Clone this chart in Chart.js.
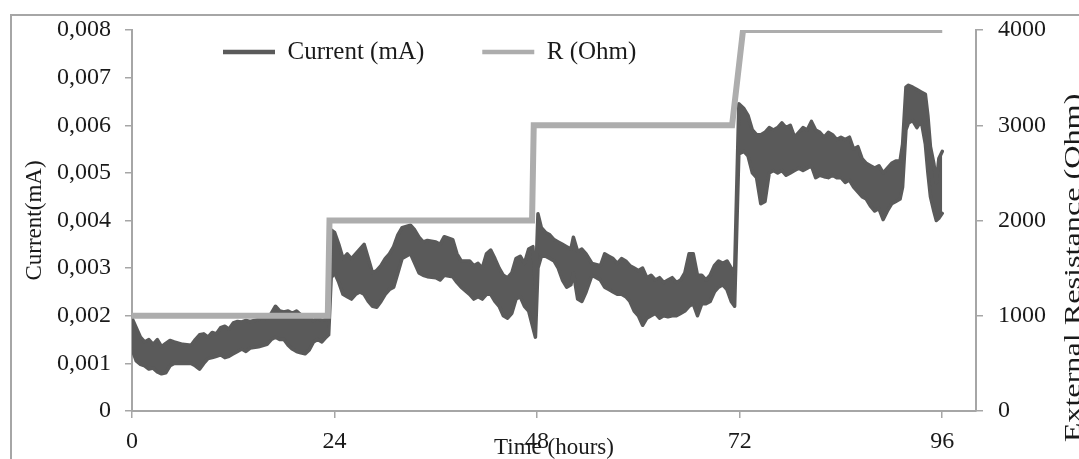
<!DOCTYPE html>
<html>
<head>
<meta charset="utf-8">
<script src="https://cdn.jsdelivr.net/npm/chart.js@4.4.1/dist/chart.umd.min.js"></script>
<style>
  html, body { margin: 0; padding: 0; background: #fff; overflow: hidden; }
  #wrap { position: relative; width: 1079px; height: 459px; }
  #frame { position: absolute; left: 10px; top: 14px; width: 1100px; height: 500px; border: 2px solid #a6a6a6; }
  #chart { position: absolute; left: 0; top: 0; }
</style>
</head>
<body>
<div id="wrap">
  <div id="frame"></div>
  <canvas id="chart" width="1079" height="459"></canvas>
</div>
<script>
// Current vs external resistance

const xTicks = [0, 24, 48, 72, 96];
const yTicks = [0, 0.001, 0.002, 0.003, 0.004, 0.005, 0.006, 0.007, 0.008];
const y2Ticks = [0, 1000, 2000, 3000, 4000];

const xTitle = "Time (hours)";
const yTitle = "Current(mA)";
const y2Title = "External Resistance (Ohm)";

// current trace is a dense noisy band: upper and lower edges of the band
const curHours = [0, 0.5, 1, 1.5, 2, 2.5, 3, 3.5, 4, 4.5, 5, 6, 7, 7.5, 8, 8.5, 9, 9.5, 10, 10.5,
  11, 11.5, 12, 12.5, 13, 13.5, 14, 15, 16, 16.5, 17, 17.5, 18, 18.5, 19, 19.5, 20, 20.5, 21, 21.5,
  22, 22.5, 23, 23.3, 23.6, 24, 24.5, 25, 25.5, 26, 26.5, 27, 27.5, 28, 28.5, 29, 29.5, 30, 30.5, 31,
  31.5, 32, 33, 33.5, 34, 34.5, 35, 36, 36.5, 37, 38, 38.5, 39, 40, 40.5, 41, 41.5, 42, 42.5, 43,
  43.5, 44, 44.5, 45, 45.5, 46, 46.5, 47, 47.5, 47.8, 48.1, 48.5, 49, 49.5, 50, 50.5, 51, 51.5, 52, 52.3,
  52.8, 53.3, 53.8, 54.5, 55.5, 56, 56.5, 57, 57.5, 58, 58.5, 59, 59.5, 60, 60.5, 61, 61.5, 62, 62.5, 63,
  63.5, 64, 64.5, 65, 65.5, 66, 66.5, 67, 67.5, 68, 68.5, 69, 69.5, 70, 70.5, 71, 71.4, 71.9, 72.5, 73,
  73.5, 74, 74.5, 75, 75.5, 76, 76.5, 77, 77.5, 78, 78.5, 79, 79.5, 80, 80.5, 81, 81.5, 82, 82.5, 83,
  83.5, 84, 84.5, 85, 85.5, 86, 86.5, 87, 87.5, 88, 88.5, 89, 89.5, 90, 90.5, 91, 91.3, 91.7, 92, 92.5,
  93, 93.5, 94, 94.3, 94.6, 95, 95.3, 95.6, 96];

const curHigh = [0.00195, 0.00175, 0.00155, 0.00145, 0.00150, 0.00140, 0.00150, 0.00135, 0.00142, 0.00148,
  0.00145, 0.00140, 0.00138, 0.00150, 0.00160, 0.00162, 0.00155, 0.00165, 0.00162, 0.00175,
  0.00178, 0.00172, 0.00185, 0.00188, 0.00187, 0.00190, 0.00188, 0.00192, 0.00195, 0.00205,
  0.00220, 0.00210, 0.00208, 0.00210, 0.00205, 0.00210, 0.00202, 0.00195, 0.00195, 0.00190,
  0.00195, 0.00190, 0.00192, 0.00195, 0.00380, 0.00375, 0.00350, 0.00320, 0.00330, 0.00320,
  0.00330, 0.00340, 0.00350, 0.00320, 0.00290, 0.00295, 0.00305, 0.00320, 0.00330, 0.00345,
  0.00370, 0.00385, 0.00390, 0.00380, 0.00365, 0.00355, 0.00358, 0.00355, 0.00350, 0.00366,
  0.00360, 0.00330, 0.00315, 0.00315, 0.00305, 0.00310, 0.00300, 0.00330, 0.00338, 0.00320,
  0.00300, 0.00285, 0.00280, 0.00290, 0.00320, 0.00325, 0.00310, 0.00340, 0.00345, 0.00260,
  0.00414, 0.00385, 0.00375, 0.00370, 0.00360, 0.00355, 0.00350, 0.00345, 0.00340, 0.00365,
  0.00335, 0.00340, 0.00330, 0.00310, 0.00305, 0.00330, 0.00325, 0.00320, 0.00310, 0.00320,
  0.00315, 0.00305, 0.00300, 0.00295, 0.00300, 0.00280, 0.00285, 0.00275, 0.00280, 0.00270,
  0.00275, 0.00280, 0.00270, 0.00275, 0.00290, 0.00330, 0.00330, 0.00285, 0.00285, 0.00275,
  0.00285, 0.00305, 0.00315, 0.00310, 0.00315, 0.00300, 0.00290, 0.00645, 0.00635, 0.00620,
  0.00590, 0.00580, 0.00580, 0.00585, 0.00595, 0.00590, 0.00595, 0.00605, 0.00595, 0.00600,
  0.00575, 0.00585, 0.00595, 0.00590, 0.00608, 0.00590, 0.00585, 0.00575, 0.00585, 0.00580,
  0.00570, 0.00575, 0.00570, 0.00575, 0.00550, 0.00555, 0.00530, 0.00520, 0.00515, 0.00510,
  0.00515, 0.00500, 0.00510, 0.00520, 0.00525, 0.00525, 0.00560, 0.00680, 0.00684, 0.00680,
  0.00675, 0.00670, 0.00665, 0.00620, 0.00555, 0.00520, 0.00480, 0.00530, 0.00545];

const curLow = [0.00130, 0.00105, 0.00098, 0.00095, 0.00088, 0.00090, 0.00082, 0.00078, 0.00080, 0.00095,
  0.00100, 0.00100, 0.00100, 0.00095, 0.00088, 0.00100, 0.00110, 0.00112, 0.00115, 0.00118,
  0.00112, 0.00115, 0.00120, 0.00125, 0.00130, 0.00125, 0.00132, 0.00135, 0.00140, 0.00150,
  0.00155, 0.00150, 0.00150, 0.00138, 0.00130, 0.00125, 0.00122, 0.00120, 0.00128, 0.00145,
  0.00150, 0.00145, 0.00155, 0.00160, 0.00280, 0.00290, 0.00270, 0.00245, 0.00240, 0.00235,
  0.00245, 0.00250, 0.00245, 0.00230, 0.00220, 0.00218, 0.00230, 0.00245, 0.00255, 0.00260,
  0.00290, 0.00320, 0.00330, 0.00310, 0.00290, 0.00285, 0.00282, 0.00280, 0.00275, 0.00285,
  0.00282, 0.00270, 0.00260, 0.00245, 0.00235, 0.00240, 0.00235, 0.00245, 0.00245, 0.00230,
  0.00220, 0.00200, 0.00195, 0.00205, 0.00235, 0.00240, 0.00220, 0.00210, 0.00175, 0.00155,
  0.00300, 0.00325, 0.00325, 0.00320, 0.00315, 0.00300, 0.00275, 0.00260, 0.00265, 0.00290,
  0.00235, 0.00230, 0.00250, 0.00285, 0.00275, 0.00260, 0.00255, 0.00250, 0.00245, 0.00245,
  0.00240, 0.00230, 0.00210, 0.00200, 0.00180, 0.00195, 0.00200, 0.00205, 0.00195, 0.00200,
  0.00198, 0.00200, 0.00200, 0.00205, 0.00210, 0.00220, 0.00225, 0.00200, 0.00225, 0.00225,
  0.00230, 0.00250, 0.00260, 0.00265, 0.00255, 0.00230, 0.00220, 0.00540, 0.00545, 0.00535,
  0.00500, 0.00490, 0.00435, 0.00440, 0.00500, 0.00505, 0.00500, 0.00505, 0.00495, 0.00500,
  0.00505, 0.00510, 0.00505, 0.00510, 0.00515, 0.00490, 0.00495, 0.00492, 0.00490, 0.00495,
  0.00490, 0.00490, 0.00480, 0.00485, 0.00470, 0.00460, 0.00450, 0.00445, 0.00430, 0.00420,
  0.00425, 0.00402, 0.00420, 0.00435, 0.00440, 0.00445, 0.00470, 0.00590, 0.00605, 0.00610,
  0.00595, 0.00610, 0.00560, 0.00500, 0.00450, 0.00420, 0.00400, 0.00405, 0.00415];

// external resistance steps
const rHours = [0, 23.2, 23.4, 47.4, 47.6, 71.1, 72.4, 96];
const rOhm = [1000, 1000, 2000, 2000, 3000, 3000, 4000, 4000];

const DARK = "#5a5a5a";
const LIGHT = "#adadad";
const AXIS = "#a6a6a6";
const TEXT = "#1a1a1a";
const SERIF = '"Liberation Serif", "Times New Roman", serif';

Chart.defaults.font.family = SERIF;
Chart.defaults.color = TEXT;

function points(xs, ys) {
  return xs.map(function(x, i) { return { x: x, y: ys[i] }; });
}

function commaTick(v) {
  return v === 0 ? "0" : v.toFixed(3).replace(".", ",");
}

// legend takes no layout room; move it into the plot, left of centre
const legendPlace = {
  id: "legendPlace",
  afterLayout: function(chart) {
    var lg = chart.legend;
    var w = lg.right - lg.left;
    lg.left = 165; lg.top = -18.5;
    lg.right = lg.left + w; lg.bottom = lg.top + 120;
  }
};

// right axis title reads bottom-to-top, like the left one
const rightTitle = {
  id: "rightTitle",
  afterDraw: function(chart) {
    var ctx = chart.ctx;
    ctx.save();
    ctx.translate(1080, 268);
    ctx.rotate(-Math.PI / 2);
    ctx.scale(1.4, 1);
    ctx.font = "23px " + SERIF;
    ctx.fillStyle = TEXT;
    ctx.textAlign = "center";
    ctx.textBaseline = "alphabetic";
    ctx.fillText(y2Title, 0, 0);
    ctx.restore();
  }
};

function axisGrid() {
  return { display: true, drawOnChartArea: false, drawTicks: true, tickLength: 7, color: AXIS, lineWidth: 1.5 };
}

new Chart(document.getElementById("chart"), {
  type: "line",
  data: {
    datasets: [
      {
        label: "Current (mA)",
        data: points(curHours, curHigh),
        yAxisID: "y",
        borderColor: DARK,
        backgroundColor: DARK,
        borderWidth: 3.5,
        borderJoinStyle: "round",
        borderCapStyle: "round",
        pointRadius: 0,
        fill: false,
        order: 1
      },
      {
        label: "current band",
        data: points(curHours, curLow),
        yAxisID: "y",
        borderColor: DARK,
        backgroundColor: DARK,
        borderWidth: 3.5,
        borderJoinStyle: "round",
        borderCapStyle: "round",
        pointRadius: 0,
        fill: "-1",
        order: 2
      },
      {
        label: "R (Ohm)",
        data: points(rHours, rOhm),
        yAxisID: "y2",
        borderColor: LIGHT,
        backgroundColor: LIGHT,
        borderWidth: 6,
        pointRadius: 0,
        fill: false,
        order: 0
      }
    ]
  },
  options: {
    responsive: false,
    animation: false,
    layout: { padding: { left: 0, right: 0, top: 29, bottom: 0 } },
    plugins: {
      tooltip: { enabled: false },
      legend: {
        position: "top",
        align: "start",
        maxHeight: 1,
        labels: {
          usePointStyle: true,
          pointStyleWidth: 52,
          padding: 58,
          color: TEXT,
          font: { size: 25 },
          generateLabels: function(chart) {
            return Chart.defaults.plugins.legend.labels.generateLabels(chart)
              .filter(function(it) { return it.datasetIndex !== 1; })
              .sort(function(a, b) { return a.datasetIndex - b.datasetIndex; })
              .map(function(it) { it.pointStyle = "line"; it.lineWidth = 4.5; return it; });
          }
        }
      }
    },
    scales: {
      x: {
        type: "linear",
        min: 0,
        max: 100,
        afterBuildTicks: function(s) { s.ticks = xTicks.map(function(v) { return { value: v }; }); },
        afterFit: function(s) { s.height = 48; },
        grid: axisGrid(),
        border: { display: true, color: AXIS, width: 2 },
        ticks: { font: { size: 24 }, padding: 9, maxRotation: 0, autoSkip: false },
        title: { display: true, text: xTitle, font: { size: 23, lineHeight: 1 }, padding: { top: 0, bottom: 0 } }
      },
      y: {
        position: "left",
        min: 0,
        max: 0.008,
        afterBuildTicks: function(s) { s.ticks = yTicks.map(function(v) { return { value: v }; }); },
        afterFit: function(s) { s.width = 132; },
        grid: axisGrid(),
        border: { display: true, color: AXIS, width: 2 },
        ticks: { font: { size: 24 }, padding: 14, callback: commaTick },
        title: { display: true, text: yTitle, font: { size: 23, lineHeight: 1 }, padding: { top: 23, bottom: 0 } }
      },
      y2: {
        position: "right",
        min: 0,
        max: 4000,
        afterBuildTicks: function(s) { s.ticks = y2Ticks.map(function(v) { return { value: v }; }); },
        afterFit: function(s) { s.width = 103; },
        grid: axisGrid(),
        border: { display: true, color: AXIS, width: 2 },
        ticks: { font: { size: 24 }, padding: 15, callback: function(v) { return String(v); } },
        title: { display: false }
      }
    }
  },
  plugins: [legendPlace, rightTitle]
});
</script>
</body>
</html>
